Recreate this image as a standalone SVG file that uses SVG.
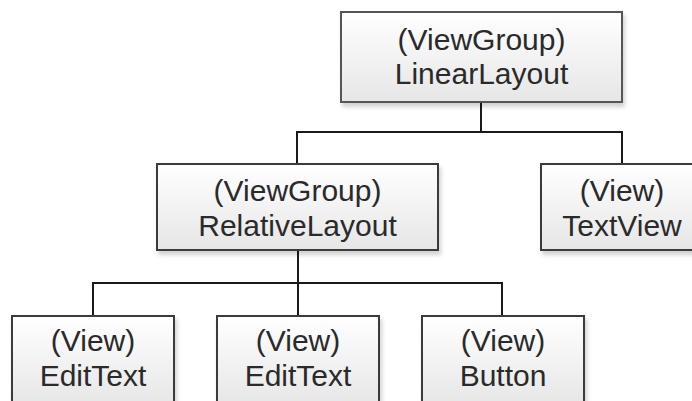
<svg xmlns="http://www.w3.org/2000/svg" width="692" height="401" viewBox="0 0 692 401">
<defs>
<linearGradient id="g" x1="0" y1="0" x2="0" y2="1">
<stop offset="0" stop-color="#ffffff"/>
<stop offset="1" stop-color="#e6e6e6"/>
</linearGradient>
<filter id="sh" x="-10%" y="-10%" width="120%" height="130%">
<feDropShadow dx="2" dy="4" stdDeviation="2" flood-color="#000" flood-opacity="0.18"/>
</filter>
</defs>
<style>
.box{fill:url(#g);stroke:#3a3a3a;stroke-width:2;filter:url(#sh)}
.t{font-family:"Liberation Sans",Arial,sans-serif;font-size:30px;fill:#2a2a2a;text-anchor:middle}
.c{fill:none;stroke:#1a1a1a;stroke-width:2}
</style>
<rect width="692" height="401" fill="#ffffff"/>
<g id="connectors">
<path class="c" d="M481,102 V132 M297,164 V132 H622 V164"/>
<path class="c" d="M298,250 V316 M93,316 V283 H502 V316"/>
</g>
<g id="linearlayout">
<rect class="box" x="341" y="12" width="281" height="90" style="stroke:#555"/>
<text class="t" x="481.5" y="50">(ViewGroup)</text>
<text class="t" x="481.5" y="84">LinearLayout</text>
</g>
<g id="relativelayout">
<rect class="box" x="157" y="164" width="281" height="86"/>
<text class="t" x="297.5" y="201">(ViewGroup)</text>
<text class="t" x="297.5" y="236">RelativeLayout</text>
</g>
<g id="textview">
<rect class="box" x="541" y="164" width="163" height="86"/>
<text class="t" x="622" y="201">(View)</text>
<text class="t" x="622" y="236">TextView</text>
</g>
<g id="edittext1">
<rect class="box" x="12" y="316" width="162" height="90"/>
<text class="t" x="93" y="351">(View)</text>
<text class="t" x="93" y="386">EditText</text>
</g>
<g id="edittext2">
<rect class="box" x="217" y="316" width="162" height="90"/>
<text class="t" x="298" y="351">(View)</text>
<text class="t" x="298" y="386">EditText</text>
</g>
<g id="button">
<rect class="box" x="422" y="316" width="162" height="90"/>
<text class="t" x="503" y="351">(View)</text>
<text class="t" x="503" y="386">Button</text>
</g>
</svg>
